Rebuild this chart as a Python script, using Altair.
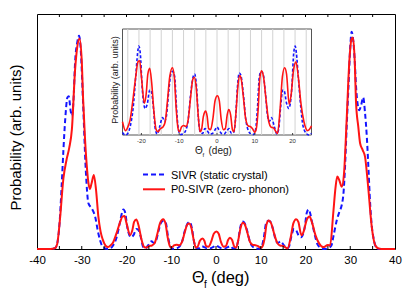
import altair as alt
import pandas as pd

# ---------------- data ----------------
red_deg = [-40, -37, -36, -35.5, -34.9, -34.1, -33.4, -32.8, -32.2, -31.5, -31.0, -30.5, -30.0,
           -29.7, -29.3, -28.9, -28.5, -28.2, -27.8, -27.3, -26.8, -26.3, -25.8, -25.3, -25.0,
           -24.2, -23.6, -23.0, -22.3, -21.5, -20.9, -20.45, -20.0, -19.2, -18.7, -18.3, -17.8,
           -17.3, -16.7, -16.1, -15.6, -15.0, -14.3, -13.7, -13.1, -12.5, -11.8, -11.3, -10.8,
           -10.3, -9.9, -9.4, -8.8, -8.2, -7.6, -7.0, -6.4, -6.0, -5.5, -5.0, -4.5, -4.1, -3.6,
           -3.0, -2.6, -2.2, -1.7, -1.1, -0.5, 0.1, 0.6, 1.1, 1.7, 2.2, 2.7, 3.1, 3.6, 4.1, 4.5,
           5.0, 5.5, 6.0, 6.4, 7.0, 7.6, 8.3, 8.8, 9.4, 10.0, 10.4, 10.9, 11.3, 11.8, 12.3,
           13.0, 13.7, 14.3, 15.0, 15.6, 16.0, 16.7, 17.3, 17.9, 18.4, 19.1, 19.6, 20.2, 20.9,
           21.5, 22.2, 23.0, 24.0, 25.0, 25.5, 26.2, 26.7, 27.1, 27.6, 28.1, 28.6, 29.2, 29.8,
           30.3, 30.6, 31.0, 31.3, 31.8, 32.2, 32.8, 33.3, 34.0, 34.8, 35.5, 36.2, 37, 40]
red_prob = [0, 0, 0.3, 2, 12, 30, 38, 43, 51, 76, 86, 89.5, 80,
            64, 48, 36, 28, 25.5, 28, 31.5, 25, 14, 7.5, 4, 2.5,
            0.8, 1.5, 2.8, 6.3, 11, 13.8, 14, 11, 6.0, 8, 11.5, 12.6,
            10, 4.5, 1, 0.6, 1.2, 1.5, 2.5, 6.5, 11, 12.7, 11, 5,
            1.2, 0.6, 1.5, 1.8, 1.6, 3, 7, 10.5, 10.9, 9, 4, 0.6, 1, 3.5,
            4.5, 3.5, 1.2, 1, 3, 6.5, 7.4, 6.5, 3, 1, 1.2, 3.8, 4.8, 3.8, 1, 0.6,
            4, 9, 11.2, 10.6, 7, 3, 1.7, 1.6, 1.2, 0.5, 1.2, 5, 10.5, 12.1, 11,
            6.5, 2.5, 1.5, 1.3, 0.6, 0.3, 5, 11, 12.7, 11.5, 5.8, 7.5, 12, 13.8,
            11, 6, 2.5, 0.8, 1.7, 1.5, 15.2, 26, 30.8, 29, 26.5, 32, 55, 80,
            89.5, 90, 80, 62, 52, 45, 42, 39.3, 26.5, 9.5, 2, 0.3, 0, 0]

blue_deg = [-40, -37, -36, -35.6, -35.0, -34.5, -34.1, -33.7, -33.2, -32.9, -32.5, -32.2, -31.8,
            -31.5, -31.0, -30.6, -30.2, -29.7, -29.1, -28.5, -27.8, -27.0, -26.3, -25.6, -25.0,
            -24.3, -23.6, -23.0, -22.2, -21.5, -21.0, -20.7, -20.3, -19.8, -19.0, -18.4, -17.8,
            -17.4, -16.8, -16.3, -15.8, -15.2, -14.4, -13.9, -13.4, -12.8, -12.2, -11.7, -11.2,
            -10.7, -10.2, -9.7, -9.0, -8.3, -7.6, -7.0, -6.3, -5.9, -5.4, -4.9, -4.4, -3.8, -3.2,
            -2.6, -1.9, -1.2, -0.5, 0.0, 0.5, 1.2, 1.9, 2.6, 3.2, 3.8, 4.4, 4.9, 5.4, 5.9, 6.3,
            7.0, 7.6, 8.3, 9.0, 9.7, 10.2, 10.7, 11.2, 11.7, 12.2, 12.8, 13.4, 13.9, 14.4, 15.2,
            15.8, 16.3, 16.8, 17.4, 17.8, 18.4, 19.0, 19.8, 20.3, 20.7, 21.0, 21.5, 22.2, 22.7,
            23.6, 24.3, 25.0, 25.8, 26.3, 27.0, 27.6, 28.1, 28.5, 28.8, 29.2, 29.6, 30.0, 30.3,
            30.6, 31.0, 31.3, 31.7, 32.0, 32.4, 32.9, 33.3, 33.7, 34.1, 34.4, 34.8, 35.2, 35.7,
            36.3, 40]
blue_prob = [0, 0, 0.3, 1.5, 10, 26.5, 42, 55, 64.5, 65, 59, 56.5, 65,
             79, 88, 90.7, 84, 62, 33.6, 19.4, 17.4, 13.7, 6.7, 2, 0.5,
             0, 0.3, 1.5, 5, 11, 15.5, 16.8, 15.5, 9, 5, 6, 8.5,
             8.3, 5, 1, 0.2, 1.5, 3.3, 2.6, 3.5, 8, 11.5, 12, 11,
             5, 1, 0.1, 0.2, 0.8, 3, 7.5, 11, 11.5, 9, 3, 0.5, 0.3, 1.2,
             0.8, 0.2, 0.3, 1, 1.5, 1, 0.3, 0.2, 0.8, 1.2, 0.3, 0.5, 3, 9, 11.7, 11.3,
             7.5, 3, 0.8, 0.2, 0.1, 1, 5, 11, 12, 11.5, 8, 3.5, 2.6, 3.3, 1.5,
             0.2, 1, 5, 8.5, 8.3, 6, 5, 9, 15.5, 16.8, 15.5, 11, 5, 1.9,
             0.3, 0, 0.3, 1.5, 6, 12.3, 16, 18.7, 24, 33.6, 52, 69, 86, 92.5,
             90, 80, 69, 61, 59, 61, 64.5, 58, 47.8, 33, 20.9, 10, 4.7, 1,
             0, 0]

# light vertical guide lines in the inset (deg)
grid_deg = [-23.6, -20.65, -17.7, -14.75, -11.8, -8.85, -5.9, -2.95, 0,
            2.95, 5.9, 8.85, 11.8, 14.75, 17.7, 20.65, 23.6]
main_label_deg = [-40, -30, -20, -10, 0, 10, 20, 30, 40]
main_tick_deg = [-35, -30, -25, -20, -15, -10, -5, 0, 5, 10, 15, 20, 25, 30, 35]
inset_label_deg = [-20, -10, 0, 10, 20]
inset_x_domain = [-25, 25]
inset_y_domain = [0, 20]
series_names = ["SIVR (static crystal)", "P0-SIVR (zero- phonon)"]

# ---------------- styling ----------------
FONT = "Liberation Sans"
BLUE = "#1414ff"
RED = "#ff1414"
W, H = 358, 235
PAD = {"left": 29, "top": 6, "right": 12, "bottom": 45}

red_df = pd.DataFrame({"deg": red_deg, "p": red_prob})
blue_df = pd.DataFrame({"deg": blue_deg, "p": blue_prob})

xs = alt.Scale(domain=[-40, 40], nice=False, zero=False)
ys = alt.Scale(domain=[0, 100], nice=False, zero=False)

x_axis = alt.Axis(values=main_label_deg, ticks=False, domain=False, grid=False, title=None,
                  labelFont=FONT, labelFontSize=11.5, labelColor="black", labelPadding=5,
                  labelFlush=False, labelOverlap=False, labelExpr="'' + datum.value")

blue_main = alt.Chart(blue_df).mark_line(color=BLUE, strokeWidth=2, strokeDash=[5, 3],
                                         interpolate="monotone").encode(
    x=alt.X("deg:Q", scale=xs, axis=x_axis), y=alt.Y("p:Q", scale=ys, axis=None))
red_main = alt.Chart(red_df).mark_line(color=RED, strokeWidth=2,
                                       interpolate="monotone").encode(
    x=alt.X("deg:Q", scale=xs), y=alt.Y("p:Q", scale=ys))

tick_df = pd.DataFrame({"deg": main_tick_deg})
ticks_bottom = alt.Chart(tick_df).mark_rule(color="black", strokeWidth=1).encode(
    x=alt.X("deg:Q", scale=xs), y=alt.value(H), y2=alt.value(H - 3))
ticks_top = alt.Chart(tick_df).mark_rule(color="black", strokeWidth=1).encode(
    x=alt.X("deg:Q", scale=xs), y=alt.value(0), y2=alt.value(3))


def txt(s, x, y, size, angle=0, align="left", baseline="alphabetic", color="black"):
    kw = dict(font=FONT, fontSize=size, align=align, baseline=baseline, color=color)
    if angle:
        kw["angle"] = angle
    return alt.Chart(pd.DataFrame({"t": [s]})).mark_text(**kw).encode(
        text="t:N", x=alt.value(x), y=alt.value(y))


def seg(x1, x2, y, color, dash=None, width=2):
    kw = dict(color=color, strokeWidth=width)
    if dash:
        kw["strokeDash"] = dash
    return alt.Chart(pd.DataFrame({"a": [0]})).mark_rule(**kw).encode(
        x=alt.value(x1), x2=alt.value(x2), y=alt.value(y))


legend = [
    seg(106, 128, 160.5, BLUE, dash=[5, 3]),
    seg(106, 128, 175.3, RED),
    txt(series_names[0], 134, 162, 11, baseline="middle"),
    txt(series_names[1], 134, 176, 11, baseline="middle"),
]
main_titles = [
    txt("Θ", 155, 269, 16),
    txt("f", 167, 274, 10),
    txt("(deg)", 174, 269, 16.5),
    txt("Probability (arb. units)", -21, 123.5, 15, angle=270, align="center", baseline="middle"),
]

main_layer = alt.layer(blue_main, red_main, ticks_bottom, ticks_top, *legend, *main_titles)

# ---------------- inset ----------------
xi = alt.Scale(domain=inset_x_domain, range=[85.5, 274.5], nice=False, zero=False)
yi = alt.Scale(domain=inset_y_domain, range=[121, 15], nice=False, zero=False)
flt = "datum.deg >= %g && datum.deg <= %g" % (inset_x_domain[0], inset_x_domain[1])

frame_df = pd.DataFrame({"x0": [inset_x_domain[0]], "x1": [inset_x_domain[1]],
                         "y0": [inset_y_domain[0]], "y1": [inset_y_domain[1]]})
frame = alt.Chart(frame_df).mark_rect(fill="white", stroke="#555555", strokeWidth=1).encode(
    x=alt.X("x0:Q", scale=xi, axis=None), x2="x1", y=alt.Y("y0:Q", scale=yi, axis=None), y2="y1")
grid = alt.Chart(pd.DataFrame({"deg": grid_deg})).mark_rule(color="#d2d2d2", strokeWidth=1).encode(
    x=alt.X("deg:Q", scale=xi), y=alt.value(15), y2=alt.value(121))
blue_in = alt.Chart(blue_df).transform_filter(flt).mark_line(
    color=BLUE, strokeWidth=1.6, strokeDash=[3, 2], interpolate="monotone").encode(
    x=alt.X("deg:Q", scale=xi), y=alt.Y("p:Q", scale=yi))
red_in = alt.Chart(red_df).transform_filter(flt).mark_line(
    color=RED, strokeWidth=1.6, interpolate="monotone").encode(
    x=alt.X("deg:Q", scale=xi), y=alt.Y("p:Q", scale=yi))
in_lab_df = pd.DataFrame({"deg": inset_label_deg, "t": [str(v) for v in inset_label_deg]})
in_ticks = alt.Chart(in_lab_df).mark_rule(color="#444444", strokeWidth=1).encode(
    x=alt.X("deg:Q", scale=xi), y=alt.value(121), y2=alt.value(119))
in_labels = alt.Chart(in_lab_df).mark_text(font=FONT, fontSize=6, color="#333333",
                                           baseline="middle").encode(
    x=alt.X("deg:Q", scale=xi), y=alt.value(127), text="t:N")
inset_titles = [
    txt("Θ", 158, 140, 10, color="#222222"),
    txt("f", 165.5, 143, 6, color="#222222"),
    txt("(deg)", 171.5, 140, 10, color="#222222"),
    txt("Probability (arb. units)", 78, 66, 9, angle=270, align="center", baseline="middle",
        color="#222222"),
]
inset_layer = alt.layer(frame, grid, blue_in, red_in, in_ticks, in_labels, *inset_titles)

chart = alt.layer(main_layer, inset_layer).resolve_scale(
    x="independent", y="independent").properties(
    width=W, height=H, padding=PAD, autosize=alt.AutoSizeParams(type="none"),
    background="white").configure_view(stroke="black", strokeWidth=1)

chart.save("out.html", embed_options={"renderer": "svg", "actions": False})
